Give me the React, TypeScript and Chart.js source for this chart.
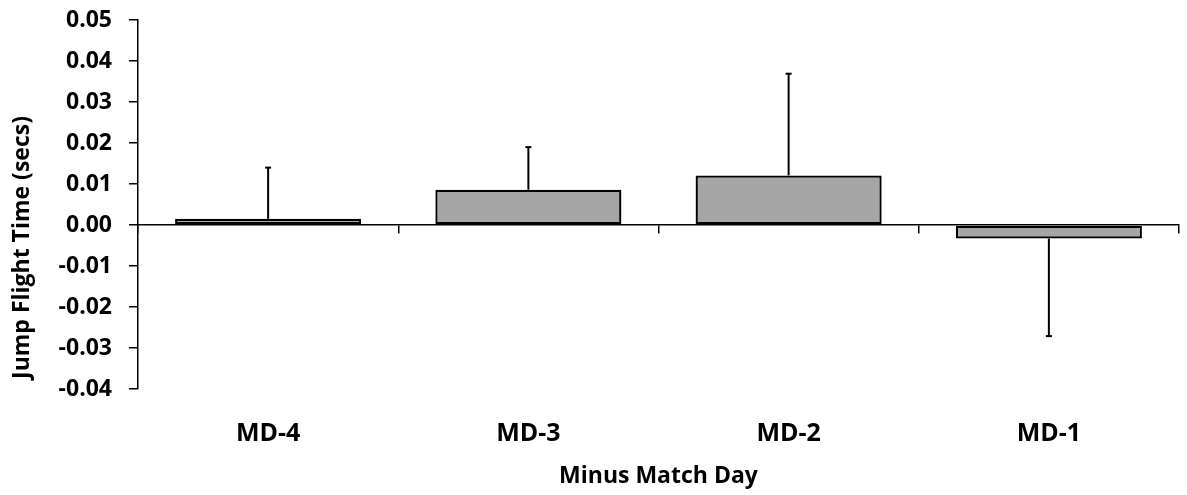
import React, { useEffect, useRef } from "react";
import { Chart, registerables } from "chart.js";

Chart.register(...registerables);

const categories = ["MD-4", "MD-3", "MD-2", "MD-1"];
const means = [0.0015, 0.0086, 0.0121, -0.0033];
const errors = [0.0125, 0.0104, 0.0248, 0.0238];
const yMin = -0.04;
const yMax = 0.05;
const yStep = 0.01;
const yTitle = "Jump Flight Time (secs)";
const xTitle = "Minus Match Day";

const FONT = "'Open Sans', sans-serif";

const errorBarPlugin = {
  id: "errorBars",
  afterDatasetsDraw(chart: any) {
    const ctx = chart.ctx;
    const meta = chart.getDatasetMeta(0);
    const yScale = chart.scales.y;
    ctx.save();
    ctx.strokeStyle = "#000";
    ctx.lineWidth = 2;
    meta.data.forEach((bar: any, i: number) => {
      const v = means[i];
      const e = errors[i];
      const end = v >= 0 ? v + e : v - e;
      const x = bar.x;
      const y0 = yScale.getPixelForValue(v);
      const y1 = yScale.getPixelForValue(end);
      ctx.beginPath();
      ctx.moveTo(x, y0);
      ctx.lineTo(x, y1);
      ctx.stroke();
      ctx.beginPath();
      ctx.moveTo(x - 3, y1);
      ctx.lineTo(x + 3, y1);
      ctx.stroke();
    });
    ctx.restore();
  },
};

const titlesPlugin = {
  id: "axisTitles",
  afterDraw(chart: any) {
    const ctx = chart.ctx;
    const area = chart.chartArea;
    ctx.save();
    ctx.fillStyle = "#000";
    ctx.font = `bold 23px ${FONT}`;
    ctx.textAlign = "center";
    ctx.textBaseline = "middle";
    ctx.fillText(xTitle, (area.left + area.right) / 2, 476);
    ctx.translate(22, chart.height / 2);
    ctx.rotate(-Math.PI / 2);
    ctx.fillText(yTitle, 0, 0);
    ctx.restore();
  },
};

export default function App() {
  const ref = useRef<HTMLCanvasElement | null>(null);
  useEffect(() => {
    if (!ref.current) return;
    const chart = new Chart(ref.current, {
      type: "bar",
      data: {
        labels: categories,
        datasets: [
          {
            data: means,
            backgroundColor: "#A6A6A6",
            borderColor: "#000",
            borderWidth: 2.3,
            borderSkipped: false,
            barPercentage: 0.715,
            categoryPercentage: 1,
            xAxisID: "x",
            yAxisID: "y",
          },
        ],
      },
      options: {
        animation: false,
        responsive: true,
        maintainAspectRatio: false,
        layout: { padding: { left: 38, right: 8, top: 20, bottom: 0 } },
        plugins: { legend: { display: false }, tooltip: { enabled: false } },
        scales: {
          x: {
            type: "category",
            position: "bottom",
            offset: true,
            grid: { display: false },
            border: { display: false },
            ticks: {
              padding: 22,
              color: "#000",
              font: { family: FONT, size: 25, weight: "bold" },
            },
            afterFit: (s: any) => {
              s.height = 106;
            },
          },
          x0: {
            type: "category",
            position: { y: 0 },
            offset: true,
            grid: {
              offset: true,
              drawOnChartArea: false,
              drawTicks: true,
              tickLength: 8,
              color: "#000",
              lineWidth: 1.5,
            },
            border: { display: true, color: "#000", width: 1.5 },
            ticks: { display: false },
          },
          y: {
            type: "linear",
            position: "left",
            min: yMin,
            max: yMax,
            ticks: {
              stepSize: yStep,
              padding: 17,
              color: "#000",
              font: { family: FONT, size: 23, weight: "bold" },
              callback: (v: any) => Number(v).toFixed(2),
            },
            grid: {
              drawOnChartArea: false,
              drawTicks: true,
              tickLength: 9,
              color: "#000",
              lineWidth: 1.5,
            },
            border: { display: true, color: "#000", width: 1.5 },
            afterFit: (s: any) => {
              s.width = 100;
              s.paddingTop = 0;
              s.paddingBottom = 0;
            },
          },
        },
      },
      plugins: [errorBarPlugin, titlesPlugin],
    });
    return () => chart.destroy();
  }, []);
  return (
    <div style={{ position: "fixed", left: 0, top: 0, width: 1187, height: 495, background: "#fff" }}>
      <canvas ref={ref} />
    </div>
  );
}
